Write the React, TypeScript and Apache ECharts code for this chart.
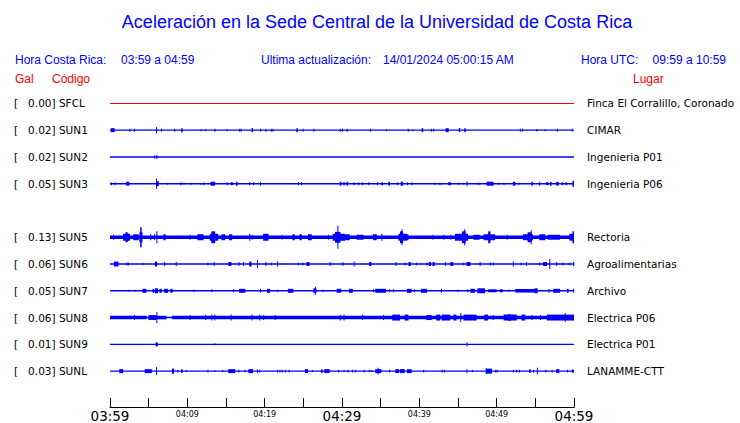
import React, { useEffect, useRef } from "react";
import * as echarts from "echarts";

// ---- data ----
const CODES = ["SFCL", "SUN1", "SUN2", "SUN3", "", "SUN5", "SUN6", "SUN7", "SUN8", "SUN9", "SUNL"];
const GAL = [0.0, 0.02, 0.02, 0.05, null, 0.13, 0.06, 0.05, 0.06, 0.01, 0.03];
const PLACES = [
  "Finca El Corralillo, Coronado",
  "CIMAR",
  "Ingenieria P01",
  "Ingenieria P06",
  "",
  "Rectoria",
  "Agroalimentarias",
  "Archivo",
  "Electrica P06",
  "Electrica P01",
  "LANAMME-CTT",
];
const TIME_START = "03:59"; // Hora Costa Rica
const TIME_END = "04:59";
const UTC_START = "09:59";
const UTC_END = "10:59";
const UPDATED = "14/01/2024 05:00:15 AM";
const DURATION_MIN = 60;
const TICK_STEP_MIN = 5;

// events: [startMinute, endMinute, halfAmplitude]  (amplitude units: 27 per trace row)
const SFCL_EVENTS: number[][] = [];
const SUN1_EVENTS = [
  [0.1, 0.6, 2], [2.5, 2.5, 1.5], [3.1, 3.1, 1.5], [5.95, 5.95, 3], [6.6, 6.6, 1.5], [8.3, 8.3, 1.5],
  [9.2, 9.4, 2], [11.7, 11.7, 1], [12.3, 12.3, 1], [13.5, 13.5, 1.5], [15.1, 15.1, 1], [16.7, 16.7, 1.5],
  [16.9, 16.9, 1.5], [18.3, 18.5, 2], [19.4, 19.4, 1.5], [20.1, 20.1, 1.5], [20.8, 20.8, 1.5], [21.0, 21.0, 1.5],
  [24.1, 24.3, 2], [24.9, 24.9, 1.5], [26.3, 26.3, 1.5], [29.7, 29.7, 1.5], [30.0, 30.0, 1.5], [30.6, 30.6, 1.5],
  [33.6, 33.6, 1.5], [35.7, 35.7, 1], [38.5, 38.5, 1.5], [39.1, 39.1, 1], [40.3, 40.5, 2], [41.5, 41.5, 1.5],
  [41.8, 41.8, 1.5], [43.4, 43.8, 2], [45.1, 45.3, 2], [45.8, 46.0, 2], [53.0, 53.0, 1.5], [53.3, 53.3, 1.5],
  [55.1, 55.3, 1], [56.2, 56.2, 1], [57.8, 57.8, 1.5], [59.7, 59.7, 1.5],
];
const SUN2_EVENTS = [[5.7, 5.7, 1.5], [6.0, 6.0, 2]];
const SUN3_EVENTS = [
  [0.1, 0.1, 1.5], [0.6, 0.6, 1.5], [2.1, 2.5, 2], [5.95, 5.95, 5], [6.0, 6.3, 2.5], [7.4, 7.4, 1],
  [9.1, 9.1, 1.5], [9.5, 9.5, 1], [10.4, 10.4, 1], [11.7, 11.7, 1], [12.1, 12.1, 1.5], [13.0, 13.6, 2],
  [15.1, 15.1, 1.5], [15.6, 15.9, 1.5], [16.3, 16.5, 2], [18.0, 18.0, 1.5], [18.5, 18.5, 1.5], [19.4, 19.4, 2],
  [24.3, 24.3, 1.5], [24.7, 24.7, 1.5], [29.7, 29.9, 2], [30.1, 30.1, 1.5], [30.3, 30.3, 1.5], [30.6, 30.8, 2],
  [31.5, 31.5, 1.5], [32.1, 32.1, 1.5], [32.6, 32.6, 1.5], [33.4, 33.4, 1.5], [34.5, 34.5, 1.5], [35.1, 35.3, 1.5],
  [36.0, 36.2, 2], [37.1, 37.1, 1.5], [37.6, 37.9, 2], [38.4, 38.4, 1.5], [39.0, 39.0, 1.5], [41.9, 41.9, 1],
  [42.5, 42.5, 1], [42.8, 42.8, 1], [43.7, 44.1, 1.5], [45.0, 45.0, 1], [45.6, 45.6, 1], [46.1, 46.1, 2.5],
  [47.4, 47.4, 1], [47.7, 47.7, 1], [48.7, 49.6, 2], [50.2, 50.2, 1], [50.9, 50.9, 1], [52.1, 52.4, 2],
  [52.8, 52.8, 1], [54.5, 54.7, 2], [55.5, 55.5, 2], [56.4, 56.7, 1.5], [56.9, 57.1, 2], [57.7, 58.0, 2],
  [58.4, 58.6, 1.5], [58.9, 59.1, 1.5], [59.8, 60, 3],
];
const SUN4_EVENTS: number[][] = [];
const SUN5_NOISE = [[0, 60, 1.8]];
const SUN5_EVENTS = [
  [0.4, 0.4, 2.5], [1.7, 2.6, 3.5], [2.0, 2.3, 5], [3.0, 3.7, 3], [3.8, 4.2, 5], [3.9, 4.1, 10],
  [5.2, 5.2, 3], [5.7, 5.7, 3], [6.0, 6.0, 6], [6.9, 7.2, 3], [10.3, 10.3, 2.5], [11.3, 12.1, 3],
  [12.9, 14.0, 3.5], [13.1, 13.6, 6], [14.4, 14.9, 3], [15.4, 15.8, 3], [18.0, 18.0, 3.5], [18.3, 18.3, 2.5],
  [19.8, 20.5, 3.5], [22.2, 22.2, 2.5], [23.6, 23.9, 3], [24.5, 24.8, 3], [25.6, 26.1, 3], [28.2, 28.2, 2.5],
  [28.8, 30.4, 3.5], [29.1, 29.8, 5.5], [29.4, 29.4, 11.5], [29.7, 31.0, 3], [31.9, 32.8, 2.5], [34.0, 34.5, 3],
  [35.1, 35.1, 3.5], [37.3, 38.4, 3.5], [37.5, 37.9, 6], [37.7, 37.7, 8], [38.4, 38.6, 3], [41.7, 41.7, 2.5],
  [43.1, 43.1, 2.5], [44.0, 44.0, 2.5], [44.6, 46.3, 3.5], [45.5, 46.0, 6], [45.8, 45.8, 8], [47.0, 47.8, 2.5],
  [48.3, 49.8, 3], [48.9, 49.2, 6], [51.3, 51.3, 2.5], [53.4, 54.7, 3], [54.0, 54.5, 5], [54.4, 54.4, 7],
  [55.5, 56.3, 3], [56.6, 58.2, 2.5], [59.4, 60, 3.5], [59.8, 60, 6],
];
const SUN6_EVENTS = [
  [0.5, 1.1, 2.5], [2.1, 2.1, 1.5], [2.3, 2.3, 1.5], [4.3, 4.3, 1], [5.8, 6.1, 2.5], [7.0, 7.0, 2],
  [8.5, 8.5, 2], [12.6, 12.6, 1.5], [13.4, 13.4, 2], [15.3, 15.7, 2], [16.6, 16.6, 2], [17.2, 17.2, 2],
  [18.0, 18.3, 2.5], [19.0, 19.0, 4], [20.1, 20.1, 2], [20.8, 20.8, 1.5], [21.6, 21.6, 2.5], [24.3, 24.3, 1.5],
  [24.9, 24.9, 1.5], [25.4, 25.8, 2], [28.4, 28.4, 2], [30.0, 30.2, 1.5], [31.5, 31.5, 2.5], [33.5, 33.8, 2],
  [36.9, 36.9, 2], [38.1, 38.1, 1.5], [38.6, 38.9, 2], [39.6, 39.6, 1.5], [40.9, 40.9, 1.5], [41.2, 41.5, 2],
  [41.7, 42.0, 2], [43.3, 43.3, 2], [44.0, 44.4, 2], [45.6, 45.6, 1.5], [46.1, 46.6, 2], [47.8, 47.8, 2],
  [49.1, 49.1, 1.5], [49.5, 49.5, 1.5], [52.1, 52.1, 2.5], [53.1, 53.1, 1.5], [53.8, 53.8, 2], [55.5, 55.5, 1.5],
  [56.0, 56.5, 2], [56.8, 56.8, 5], [57.7, 57.7, 2], [58.5, 58.5, 1.5], [59.4, 59.4, 1.5], [59.9, 59.9, 2],
];
const SUN7_EVENTS = [
  [2.4, 2.4, 1], [3.2, 3.2, 1], [4.2, 4.7, 2], [5.5, 5.7, 2], [5.8, 6.2, 2.5], [6.4, 6.7, 2],
  [7.0, 7.5, 2], [7.8, 8.1, 2], [10.8, 10.8, 1], [13.1, 13.1, 1.5], [15.9, 15.9, 1.5], [16.7, 17.5, 2],
  [19.4, 19.4, 2], [20.3, 20.7, 2], [21.6, 21.6, 1], [23.0, 23.7, 2], [26.3, 26.7, 2.5], [26.5, 26.5, 4],
  [27.5, 27.5, 1], [29.3, 29.9, 2], [30.9, 31.4, 2], [34.0, 34.0, 1.5], [34.3, 35.7, 2], [36.1, 36.1, 1.5],
  [36.6, 36.6, 1.5], [38.4, 39.0, 2], [39.3, 39.3, 1.5], [40.2, 41.0, 2], [42.8, 42.8, 2], [44.9, 44.9, 1],
  [46.2, 46.2, 1.5], [46.6, 47.2, 2], [47.5, 48.5, 2.5], [48.9, 50.0, 1.5], [50.4, 50.8, 1.5], [51.5, 51.5, 1],
  [52.4, 55.2, 1.8], [54.9, 55.3, 2.5], [56.7, 56.7, 2], [57.3, 58.2, 2], [59.1, 59.3, 2], [59.9, 59.9, 2],
];
const SUN8_NOISE = [[0, 4.75, 1.8], [4.95, 7.3, 1.8], [8.0, 60, 1.8]];
const SUN8_EVENTS = [
  [3.1, 3.1, 2.5], [5.0, 6.0, 2.5], [6.0, 6.0, 5.5], [10.3, 10.3, 2.5], [12.3, 12.3, 2.5], [13.1, 13.1, 3],
  [13.5, 13.5, 3], [15.6, 15.6, 3], [18.3, 18.3, 3], [19.3, 19.3, 3], [19.8, 19.8, 2.5], [21.3, 21.3, 2.5],
  [29.7, 29.7, 3], [30.2, 30.2, 3], [32.6, 32.6, 2.5], [35.3, 35.3, 2.5], [36.5, 37.5, 3], [38.1, 38.6, 3],
  [40.9, 41.6, 2.5], [42.2, 42.7, 3], [42.9, 44.0, 3], [44.4, 44.8, 3], [45.3, 45.3, 4.5], [45.7, 47.4, 3],
  [48.4, 48.9, 3], [49.5, 49.5, 2.5], [50.9, 52.6, 3], [51.5, 51.8, 3.5], [53.2, 53.7, 3], [54.5, 54.5, 2.5],
  [55.6, 55.6, 2.5], [56.5, 60, 3], [58.8, 58.8, 4.5],
];
const SUN9_EVENTS = [[5.9, 6.2, 2], [13.5, 13.5, 1], [46.1, 46.1, 2]];
const SUNL_EVENTS = [
  [1.2, 1.7, 2], [4.5, 5.4, 2], [5.95, 5.95, 4], [8.0, 8.3, 2.5], [8.7, 8.7, 1.5], [9.2, 9.4, 2],
  [9.8, 9.8, 1], [12.6, 12.6, 1.5], [13.5, 13.5, 1], [14.5, 14.5, 1], [15.3, 16.2, 2], [16.6, 16.6, 1.5],
  [17.4, 17.4, 1.5], [17.9, 18.5, 2], [19.0, 19.0, 2], [19.3, 19.3, 1.5], [21.6, 21.6, 1.5], [21.9, 21.9, 1.5],
  [22.2, 22.2, 1.5], [22.6, 22.6, 1.5], [23.1, 23.1, 1.5], [25.2, 25.6, 2], [26.1, 26.1, 1], [27.3, 27.5, 2],
  [27.7, 28.4, 2], [29.5, 29.5, 1.5], [30.2, 30.2, 1], [30.7, 30.7, 1.5], [31.3, 31.3, 1.5], [31.7, 31.7, 1.5],
  [32.8, 32.8, 1.5], [33.5, 33.5, 1], [33.8, 33.8, 1], [34.3, 35.1, 2], [34.6, 34.6, 3.5], [36.1, 36.1, 1.5],
  [36.9, 37.4, 2], [37.5, 38.1, 2], [38.4, 39.0, 2], [40.5, 40.5, 1.5], [42.9, 42.9, 1.5], [43.2, 43.2, 1.5],
  [46.1, 46.1, 2], [46.8, 46.8, 1], [48.6, 49.4, 2.5], [48.6, 48.6, 3], [49.8, 49.8, 1.5], [50.0, 50.0, 1.5],
  [52.1, 52.1, 1.5], [52.5, 52.5, 1.5], [52.9, 52.9, 1.5], [54.2, 54.4, 2], [54.7, 54.7, 1.5], [55.2, 55.2, 3.5],
  [56.3, 56.3, 1.5], [57.1, 57.1, 1.5], [57.7, 58.1, 2], [59.1, 59.1, 1.5], [59.7, 60, 1.5],
];

const EVENTS = [
  SFCL_EVENTS, SUN1_EVENTS, SUN2_EVENTS, SUN3_EVENTS, SUN4_EVENTS, SUN5_EVENTS,
  SUN6_EVENTS, SUN7_EVENTS, SUN8_EVENTS, SUN9_EVENTS, SUNL_EVENTS,
];
const NOISE: number[][][] = [[], [], [], [], [], SUN5_NOISE, [], [], SUN8_NOISE, [], []];

// ---- styling ----
const ROW_UNITS = 27;
const BLUE = "#0000ff";
const RED = "#ff0000";
const HEADER_FONT = '"Liberation Sans", Arial, sans-serif';
const LABEL_FONT = '"DejaVu Sans", sans-serif';

function hhmm(startStr: string, m: number) {
  const [h, mm] = startStr.split(":").map(Number);
  const t = h * 60 + mm + m;
  const p = (n: number) => String(n).padStart(2, "0");
  return `${p(Math.floor(t / 60) % 24)}:${p(t % 60)}`;
}

function buildOption() {
  const series: any[] = [];
  CODES.forEach((code, row) => {
    if (!code) return;
    const color = code === "SFCL" ? RED : BLUE;
    const lineHalf = code === "SFCL" ? 0.5 : 0.7;
    const data: number[][] = [[0, DURATION_MIN, lineHalf, row, 1]];
    NOISE[row].forEach((s) => data.push([s[0], s[1], s[2], row, 0]));
    EVENTS[row].forEach((e) => data.push([e[0], e[1], e[2], row, 0]));
    series.push({
      type: "custom",
      name: code,
      xAxisIndex: 0,
      yAxisIndex: 0,
      silent: true,
      clip: false,
      encode: { x: [0, 1], y: 3 },
      data,
      renderItem: (params: any, api: any) => {
        const t0 = api.value(0);
        const t1 = api.value(1);
        const half = api.value(2);
        const r = api.value(3);
        const isLine = api.value(4) === 1;
        const p0 = api.coord([t0, r]);
        const p1 = api.coord([t1, r]);
        const band = api.size([0, 1])[1];
        const h = isLine ? half : (half / ROW_UNITS) * band;
        return {
          type: "rect",
          shape: { x: p0[0], y: p0[1] - h, width: Math.max(p1[0] - p0[0], 1), height: 2 * h },
          style: { fill: color },
        };
      },
    });
  });

  const nb = "\u00a0";
  const txt = (x: number, y: number, t: string, size: number, fill: string, align = "left") => ({
    type: "text",
    x,
    y,
    style: {
      text: t,
      font: `${size}px ${HEADER_FONT}`,
      fill,
      align,
      verticalAlign: "middle",
      textAlign: align,
      textVerticalAlign: "middle",
    },
  });

  return {
    animation: false,
    backgroundColor: "#ffffff",
    grid: { left: 110, right: 166, top: 90, bottom: 36, containLabel: false },
    xAxis: {
      type: "value",
      min: 0,
      max: DURATION_MIN,
      interval: TICK_STEP_MIN,
      offset: 23,
      splitLine: { show: false },
      axisLine: { show: true, lineStyle: { color: "#000", width: 1 } },
      axisTick: { show: true, inside: true, length: 9.5, lineStyle: { color: "#000", width: 1 } },
      axisLabel: {
        show: true,
        margin: 1,
        showMinLabel: true,
        showMaxLabel: true,
        hideOverlap: false,
        formatter: (v: number) => {
          if (v % 10 !== 0) return "";
          const s = hhmm(TIME_START, v);
          return v % 30 === 0 ? `{big|${s}}` : `{small|${s}}`;
        },
        rich: {
          big: { fontSize: 13.5, fontFamily: LABEL_FONT, color: "#000", lineHeight: 15 },
          small: { fontSize: 8, fontFamily: LABEL_FONT, color: "#000", lineHeight: 10, padding: [2, 0, 0, 0] },
        },
      },
    },
    yAxis: [
      {
        type: "category",
        data: CODES,
        inverse: true,
        position: "left",
        axisLine: { show: false },
        axisTick: { show: false },
        splitLine: { show: false },
        axisLabel: {
          show: true,
          interval: 0,
          align: "left",
          margin: 96,
          fontFamily: LABEL_FONT,
          fontSize: 10.5,
          color: "#000",
          formatter: (v: string, i: number) =>
            v ? `[${nb}${nb}${nb}${(GAL[i] as number).toFixed(2)}] ${v}` : "",
        },
      },
      {
        type: "category",
        data: PLACES,
        inverse: true,
        position: "right",
        axisLine: { show: false },
        axisTick: { show: false },
        splitLine: { show: false },
        axisLabel: {
          show: true,
          interval: 0,
          align: "left",
          margin: 13,
          fontFamily: LABEL_FONT,
          fontSize: 10.5,
          color: "#000",
        },
      },
    ],
    graphic: [
      txt(377, 22, "Aceleración en la Sede Central de la Universidad de Costa Rica", 18, BLUE, "center"),
      txt(15, 60, "Hora Costa Rica:", 12, BLUE),
      txt(121, 60, `${TIME_START} a ${TIME_END}`, 12, BLUE),
      txt(261, 60, "Ultima actualización:", 12, BLUE),
      txt(383, 60, UPDATED, 12, BLUE),
      txt(581, 60, "Hora UTC:", 12, BLUE),
      txt(726, 60, `${UTC_START} a ${UTC_END}`, 12, BLUE, "right"),
      txt(15, 79, "Gal", 12, RED),
      txt(52, 79, "Código", 12, RED),
      txt(633, 79, "Lugar", 12, RED),
    ],
    series,
  };
}

export default function App() {
  const ref = useRef<HTMLDivElement>(null);
  useEffect(() => {
    if (!ref.current) return;
    const chart = echarts.init(ref.current, null, { renderer: "svg" });
    chart.setOption(buildOption() as any);
    return () => chart.dispose();
  }, []);
  return (
    <div
      ref={ref}
      style={{ position: "absolute", left: 0, top: 0, width: 740, height: 423, background: "#fff" }}
    />
  );
}
